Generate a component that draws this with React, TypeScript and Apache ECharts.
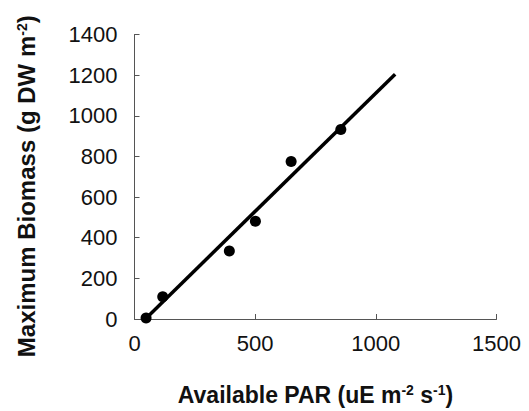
import React, { useEffect, useRef } from "react";
import * as echarts from "echarts";

const parX = [48, 117, 393, 501, 649, 855];
const biomassY = [5, 110, 335, 481, 775, 933];
const fitX = [45, 1080];
const fitY = [0, 1205];
const xTicks = [0, 500, 1000, 1500];
const yTicks = [0, 200, 400, 600, 800, 1000, 1200, 1400];

export default function App() {
  const ref = useRef<HTMLDivElement>(null);
  useEffect(() => {
    if (!ref.current) return;
    const chart = echarts.init(ref.current, null, { renderer: "svg" });
    const font = "'Liberation Sans', Arial, sans-serif";
    const supStyle = { fontSize: 14, fontWeight: "bold", fontFamily: font, color: "#111", verticalAlign: "top", padding: [0, 0, 10, 0] };
    chart.setOption({
      animation: false,
      backgroundColor: "#fff",
      grid: { left: 134.5, right: 32.5, top: 34.5, bottom: 92, containLabel: false, outerBoundsMode: "none" },
      xAxis: {
        type: "value",
        min: xTicks[0],
        max: xTicks[xTicks.length - 1],
        interval: 500,
        splitLine: { show: false },
        axisLine: { lineStyle: { color: "#555", width: 1 } },
        axisTick: { inside: true, length: 5, lineStyle: { color: "#555" } },
        axisLabel: { color: "#111", fontSize: 22, fontFamily: font, margin: 13, formatter: (v: number) => String(v) },
        name: "Available PAR (uE m{s|-2} s{s|-1})",
        nameLocation: "middle",
        nameGap: 64,
        nameTextStyle: {
          color: "#111",
          fontSize: 23,
          fontWeight: "bold",
          fontFamily: font,
          rich: { s: supStyle },
        },
      },
      yAxis: {
        type: "value",
        min: yTicks[0],
        max: yTicks[yTicks.length - 1],
        interval: 200,
        splitLine: { show: false },
        axisLine: { show: true, lineStyle: { color: "#555", width: 1 } },
        axisTick: { show: true, inside: true, length: 5, lineStyle: { color: "#555" } },
        axisLabel: { color: "#111", fontSize: 22, fontFamily: font, margin: 17, formatter: (v: number) => String(v) },
        name: "Maximum Biomass (g DW m{s|-2})",
        nameLocation: "middle",
        nameGap: 96,
        nameRotate: 90,
        nameTextStyle: {
          color: "#111",
          fontSize: 24,
          fontWeight: "bold",
          fontFamily: font,
          padding: [0, 19, 0, 0],
          rich: { s: supStyle },
        },
      },
      series: [
        {
          type: "line",
          data: fitX.map((x, i) => [x, fitY[i]]),
          showSymbol: false,
          symbol: "none",
          lineStyle: { color: "#000", width: 3.5 },
          z: 2,
        },
        {
          type: "scatter",
          data: parX.map((x, i) => [x, biomassY[i]]),
          symbol: "circle",
          symbolSize: 11,
          itemStyle: { color: "#000", opacity: 1 },
          z: 3,
        },
      ],
    });
    return () => chart.dispose();
  }, []);
  return <div ref={ref} style={{ width: 529, height: 411, position: "absolute", left: 0, top: 0 }} />;
}
